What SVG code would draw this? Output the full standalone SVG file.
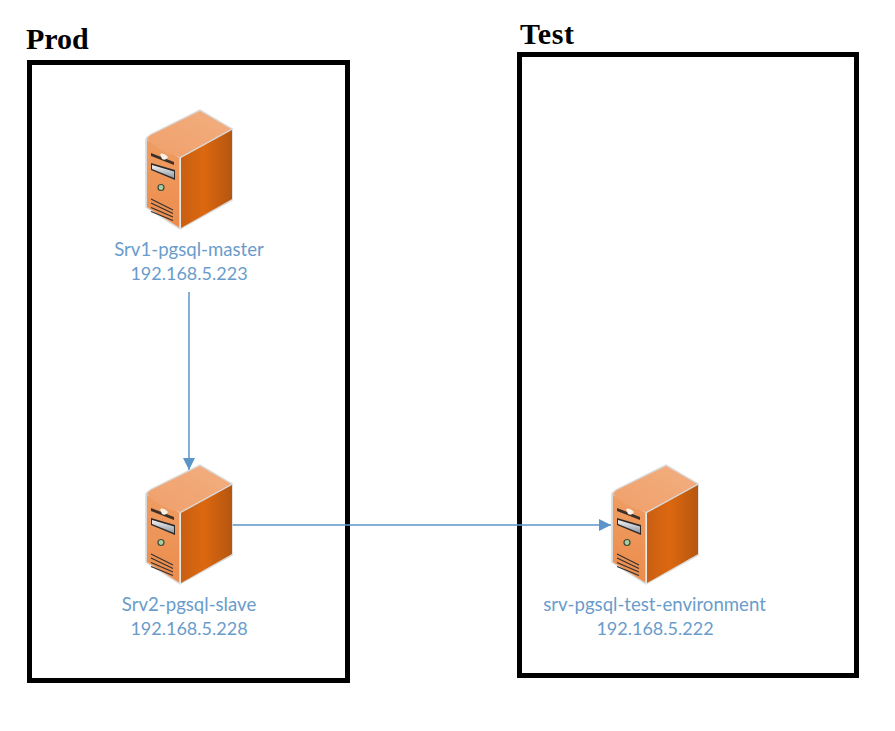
<svg xmlns="http://www.w3.org/2000/svg" width="895" height="731" viewBox="0 0 895 731">
<style>
.zone{fill:none;stroke:#000;stroke-width:5}
.title{font-family:"Liberation Serif",serif;font-weight:bold;font-size:30px;fill:#000}
.lbl{font-family:Lato,"Liberation Sans",sans-serif;font-size:18.6px;fill:#6a9ccb;text-anchor:middle}
.ip{font-size:18px}
.conn{fill:none;stroke:#5b94c9;stroke-width:1.5}
.vent{fill:none;stroke:#33302e;stroke-width:1.1}
</style>
<defs>
<linearGradient id="side" x1="0" y1="0" x2="1" y2="0"><stop offset="0" stop-color="#c95f12"/><stop offset=".45" stop-color="#dc6810"/><stop offset="1" stop-color="#b5560f"/></linearGradient>
<linearGradient id="front" x1="0" y1="0" x2="0" y2="1"><stop offset="0" stop-color="#ef9d63"/><stop offset="1" stop-color="#ec8c4c"/></linearGradient>
<linearGradient id="top" x1="0" y1="1" x2="1" y2="0"><stop offset="0" stop-color="#f0a06a"/><stop offset="1" stop-color="#f2ae80"/></linearGradient>
<linearGradient id="slot" x1="0" y1="0" x2="0" y2="1"><stop offset="0" stop-color="#f4f4f4"/><stop offset="1" stop-color="#8d98a3"/></linearGradient>
<marker id="arr" markerUnits="userSpaceOnUse" markerWidth="13" markerHeight="12" refX="12" refY="6" orient="auto"><path d="M0 0L12 6L0 12Z" fill="#5b94c9"/></marker>
<symbol id="srv" width="90" height="124" viewBox="0 0 90 124" overflow="visible">
<path d="M0 29Q1 27 4 25L54 0L86 19V90L34 119L0 97Z" fill="#d9d9d9" stroke="#d9d9d9" stroke-width="1.5"/>
<path d="M1 30L34 48V118L1 97Z" fill="url(#front)"/>
<path d="M35 48L86 20V89L35 118Z" fill="url(#side)"/>
<path d="M1 29Q2 27 5 25L54 1L85 19L34 47Q14 43 1 29Z" fill="url(#top)"/>
<path d="M34 48V119" stroke="#f4f0ea" stroke-width="1.2" fill="none"/>
<path d="M5 43L28 52L28 55L5 46Z" fill="#3d3028"/>
<path d="M14 44Q18 42 22 47Q20 51 16 49Z" fill="#f7f1ea"/>
<path d="M5 53L29 60V70L5 60Z" fill="#2e2a28"/>
<path d="M6 55L28 61.500V68L6 59Z" fill="url(#slot)"/>
<circle cx="15" cy="77.500" r="3" fill="#a9cfa0" stroke="#3d4a3a" stroke-width="1.200"/>
<path class="vent" d="M5 89L27 100M5 93L27 103.500M5 97.500L27 107M5 101.500L27 110.500"/>
</symbol>
</defs>
<g id="prod"><rect class="zone" x="29.500" y="62.500" width="318" height="618"/><text class="title" x="26" y="49">Prod</text></g>
<g id="test"><rect class="zone" x="519.500" y="54.500" width="337" height="621"/><text class="title" x="520" y="44" textLength="54">Test</text></g>
<g id="connectors">
<path class="conn" d="M189 292V470" marker-end="url(#arr)"/>
<path class="conn" d="M232 525H611" marker-end="url(#arr)"/>
</g>
<g id="srv1"><use href="#srv" x="146" y="110"/><text class="lbl" x="189" y="256">Srv1-pgsql-master</text><text class="lbl ip" x="189" y="280">192.168.5.223</text></g>
<g id="srv2"><use href="#srv" x="146" y="465"/><text class="lbl" x="189" y="611">Srv2-pgsql-slave</text><text class="lbl ip" x="189" y="635">192.168.5.228</text></g>
<g id="srv3"><use href="#srv" x="612" y="465"/><text class="lbl" x="654.500" y="611">srv-pgsql-test-environment</text><text class="lbl ip" x="655" y="635">192.168.5.222</text></g>
</svg>
